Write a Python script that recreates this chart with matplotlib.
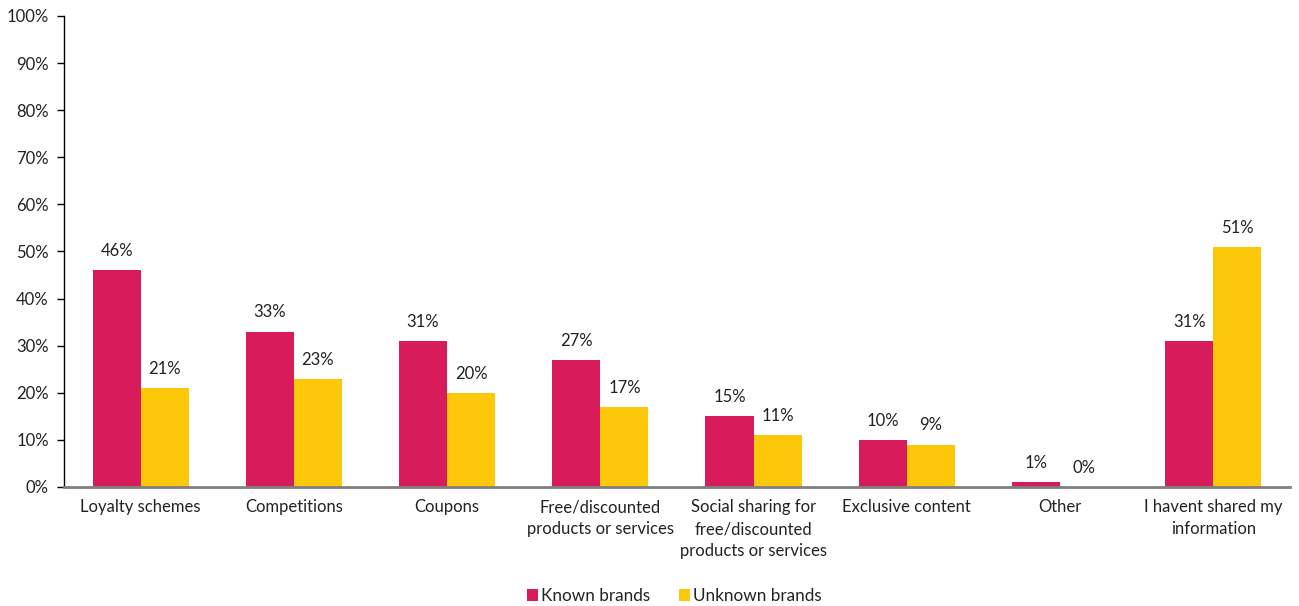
import matplotlib

matplotlib.use("Agg")
import matplotlib.pyplot as plt
import numpy as np
from matplotlib.ticker import FuncFormatter

categories = [
    "Loyalty schemes",
    "Competitions",
    "Coupons",
    "Free/discounted\nproducts or services",
    "Social sharing for\nfree/discounted\nproducts or services",
    "Exclusive content",
    "Other",
    "I havent shared my\ninformation",
]
known_brands = [46, 33, 31, 27, 15, 10, 1, 31]
unknown_brands = [21, 23, 20, 17, 11, 9, 0, 51]
series_names = ["Known brands", "Unknown brands"]

KNOWN_COLOR = "#D81B5A"
UNKNOWN_COLOR = "#FDC80A"

plt.rcParams["font.family"] = ["Lato", "DejaVu Sans"]

fig = plt.figure(figsize=(12.99, 6.06), dpi=100)
ax = fig.add_axes([0.0493, 0.1964, 0.9437, 0.7772])

x = np.arange(len(categories))
w = 0.314
b1 = ax.bar(x - w / 2, known_brands, w, color=KNOWN_COLOR, label=series_names[0])
b2 = ax.bar(x + w / 2, unknown_brands, w, color=UNKNOWN_COLOR, label=series_names[1])

# value labels above each bar
for bars, vals in ((b1, known_brands), (b2, unknown_brands)):
    for rect, v in zip(bars, vals):
        ax.annotate(f"{v}%", (rect.get_x() + rect.get_width() / 2, v),
                    xytext=(0, 8), textcoords="offset points",
                    ha="center", va="bottom", fontsize=12, color="#222222")

ax.set_xlim(-0.5, len(categories) - 0.5)
ax.set_ylim(0, 100)
ax.set_yticks(np.arange(0, 101, 10))
ax.yaxis.set_major_formatter(FuncFormatter(lambda v, _: f"{v:.0f}%"))
ax.set_xticks(x)
ax.set_xticklabels(categories, fontsize=12, color="#222222", linespacing=1.45)
ax.tick_params(axis="x", length=0, pad=9)
ax.tick_params(axis="y", length=5, width=1, direction="out", labelsize=12,
               labelcolor="#222222", pad=6)

for side in ("top", "right"):
    ax.spines[side].set_visible(False)
ax.spines["left"].set_color("black")
ax.spines["left"].set_linewidth(1)
ax.spines["bottom"].set_color("#808080")
ax.spines["bottom"].set_linewidth(2)

fig.legend(handles=[b1, b2], labels=series_names, loc="center",
           bbox_to_anchor=(0.519, 0.0165), ncol=2, frameon=False, fontsize=12.3,
           handlelength=0.65, handleheight=0.65, handletextpad=0.15,
           columnspacing=1.7, labelcolor="#222222")

fig.savefig("out.png", dpi=100, facecolor="white")
